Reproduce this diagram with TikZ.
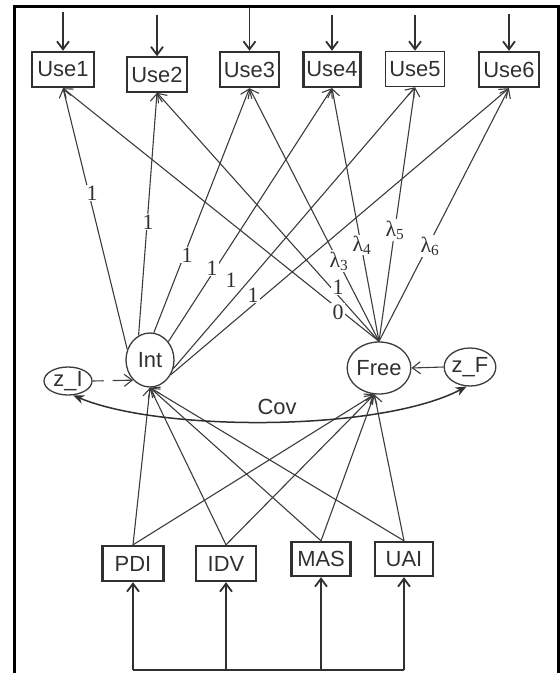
\documentclass[tikz,border=0pt]{standalone}
\usepackage{fontspec}
\setmainfont{Liberation Sans}
\newfontfamily\lblfont{Liberation Serif}
\usetikzlibrary{arrows.meta,shapes.geometric}
\definecolor{ink}{HTML}{303030}
\definecolor{edgec}{HTML}{3C3C3C}
\begin{document}
\begin{tikzpicture}[x=1bp,y=-1bp,
  obs/.style={draw=ink,line width=2.4bp,rectangle,inner sep=0pt,
    minimum height=35bp,fill=white,text=ink,font=\fontsize{22}{24}\selectfont},
  thinobs/.style={obs,line width=1.5bp},
  lat/.style={draw=edgec,line width=1.3bp,ellipse,inner sep=0pt,fill=white,
    text=ink,font=\fontsize{22}{24}\selectfont},
  barb/.style={-{Straight Barb[length=8bp,width=12bp]}},
  conn/.style={draw=edgec,line width=1.1bp,barb},
  feed/.style={draw=ink,line width=1.8bp,barb},
  covarc/.style={draw=ink,line width=1.5bp,{Stealth[length=11bp,width=9bp]}-{Stealth[length=11bp,width=9bp]}},
  lbl/.style={fill=white,inner sep=1.2bp,text=ink,font=\lblfont\fontsize{22}{24}\selectfont},
  plain/.style={text=ink,font=\fontsize{22}{24}\selectfont}
]
\useasboundingbox (0,0) rectangle (560,673);
% frame
\draw[black,line width=3bp] (14,673) -- (14,7) -- (558,7) -- (558,673);
% observed indicators
\node[obs,minimum width=62bp] (Use1) at (63,69.5) {Use1};
\node[thinobs,minimum width=60bp] (Use2) at (157,74.5) {Use2};
\node[obs,minimum width=59bp] (Use3) at (249.5,69.5) {Use3};
\node[obs,minimum width=57bp] (Use4) at (332,69.5) {Use4};
\node[thinobs,minimum width=59bp] (Use5) at (415,69) {Use5};
\node[obs,minimum width=60bp] (Use6) at (509,69.5) {Use6};
% latent
\node[lat,minimum width=48bp,minimum height=54bp] (Int) at (150,360) {Int};
\node[lat,minimum width=60bp,minimum height=52bp] (Free) at (379,368) {Free};
\node[lat,minimum width=48bp,minimum height=28bp] (zI) at (68,381) {z\_I};
\node[lat,minimum width=47bp,minimum height=38bp] (zF) at (470,367) {z\_F};
% covariates
\node[obs,minimum width=61bp] (PDI) at (133,563.5) {PDI};
\node[obs,minimum width=60bp] (IDV) at (226,563.5) {IDV};
\node[obs,minimum width=59bp,minimum height=34bp] (MAS) at (321,559) {MAS};
\node[obs,minimum width=58bp,minimum height=34bp] (UAI) at (404,559) {UAI};
% error inputs at top
\foreach \i/\y in {1/12,2/15,3/7,4/15,5/15,6/14}{
  \coordinate (t\i) at (Use\i.north |- 0,\y);
  \draw[feed] (t\i) -- (Use\i.north);
}
% loadings
\foreach \i/\a in {1/155,2/115,3/82,4/45,5/-20,6/-35}
  \draw[conn] (Int.\a) -- (Use\i.south);
\foreach \i in {1,...,6}
  \draw[conn] (Free.north) -- (Use\i.south);
% covariate paths
\foreach \b in {PDI,IDV,MAS,UAI}{
  \draw[conn] (\b.north) -- (Int.south);
  \draw[conn] (\b.north) -- (Free.-100);
}
\coordinate (base) at (0,670);
\foreach \b in {PDI,IDV,MAS,UAI}{
  \coordinate (s\b) at (\b.south |- base);
  \draw[feed] (s\b) -- (\b.south);
}
\draw[ink,line width=2.2bp] (sPDI) -- (sUAI);
% disturbances
\draw[conn,dash pattern=on 11bp off 9bp on 100bp] (zI.east) -- (Int.230);
\draw[conn] (zF.west) -- (Free.east);
\draw[covarc] (zI.-70) .. controls (160,432) and (380,432) .. (zF.-100);
\node[plain] (covl) at (277,407) {Cov};
% labels
\node[lbl] (i1) at (92,193) {1};
\node[lbl] (i2) at (148,222) {1};
\node[lbl] (i3) at (187,255) {1};
\node[lbl] (i4) at (212,268) {1};
\node[lbl] (i5) at (231,280) {1};
\node[lbl] (i6) at (253,295) {1};
\node[lbl] (f1) at (338,312) {0};
\node[lbl] (f2) at (338,287) {1};
\node[lbl] (f3) at (339,261) {λ\textsubscript{3}};
\node[lbl] (f4) at (362,245) {λ\textsubscript{4}};
\node[lbl] (f5) at (395,230) {λ\textsubscript{5}};
\node[lbl] (f6) at (430,246) {λ\textsubscript{6}};
\end{tikzpicture}
\end{document}
